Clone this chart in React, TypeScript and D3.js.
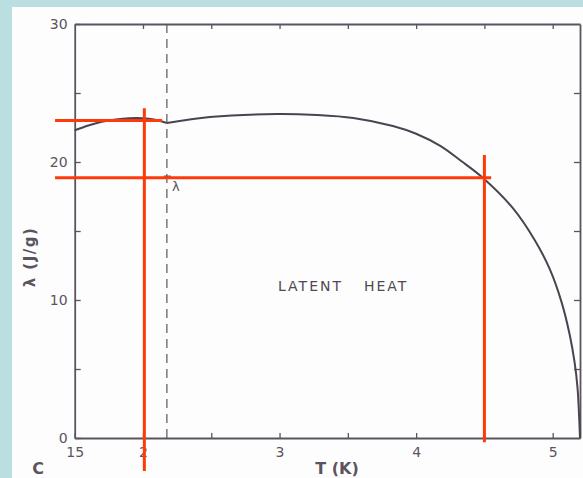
import React, { useEffect, useRef } from "react";
import * as d3 from "d3";

// latent heat of helium-4 vs temperature
const belowLambdaT = [1.5, 1.6, 1.69, 1.8, 1.9, 2.0, 2.08, 2.175];
const belowLambdaL = [22.3, 22.65, 22.9, 23.08, 23.17, 23.17, 23.08, 22.83];
const aboveLambdaT = [2.175, 2.49, 2.98, 3.27, 3.54, 3.83, 4.0, 4.18, 4.33, 4.49, 4.707, 4.868, 4.978, 5.066, 5.125, 5.16, 5.182, 5.193, 5.2];
const aboveLambdaL = [22.83, 23.26, 23.48, 23.41, 23.19, 22.61, 22.05, 21.15, 20.07, 18.84, 16.67, 14.35, 12.25, 9.81, 7.46, 5.51, 3.62, 1.67, 0];

const lambdaT = 2.175;
const yTicks = [0, 5, 10, 15, 20, 25, 30];
const yLabels = [0, 10, 20, 30];
const xTicks = [1.5, 2, 2.5, 3, 3.5, 4, 4.5, 5];
const xLabels: Record<string, string> = { "1.5": "15", "2": "2", "3": "3", "4": "4", "5": "5" };

// red reading guides drawn on top
const guideH = [[1.4, 23.0, 2.14], [1.4, 18.85, 4.55]]; // [fromT, lambda, toT]
const guideV = [[2.01, 23.9, -2.4], [4.5, 20.5, -0.3]]; // [T, fromLambda, toLambda]

const W = 583, H = 478;

export default function App() {
  const ref = useRef<SVGSVGElement>(null);

  useEffect(() => {
    const svg = d3.select(ref.current);
    svg.selectAll("*").remove();

    const x = d3.scaleLinear().domain([1.5, 5.2]).range([74.7, 580]);
    const y = d3.scaleLinear().domain([0, 30]).range([438, 24]);
    const ink = "#5b5460";

    svg.append("rect").attr("width", W).attr("height", H).attr("fill", "#b9dfe1");
    svg.append("rect").attr("x", 12).attr("y", 7).attr("width", W - 12).attr("height", H - 7).attr("fill", "#fdfdfd");

    const font = "'DejaVu Sans', sans-serif";

    // axes, ticks pointing inward
    const gl = svg.append("g").attr("transform", `translate(${x(1.5)},0)`)
      .call(d3.axisLeft(y).tickValues(yTicks).tickSize(-6).tickSizeOuter(0).tickPadding(7)
        .tickFormat((d) => (yLabels.includes(+d) ? String(d) : "")));
    const gr = svg.append("g").attr("transform", `translate(${x(5.2)},0)`)
      .call(d3.axisRight(y).tickValues(yTicks.slice(1, -1)).tickSize(-6).tickSizeOuter(0).tickFormat(() => ""));
    const gb = svg.append("g").attr("transform", `translate(0,${y(0)})`)
      .call(d3.axisBottom(x).tickValues(xTicks).tickSize(-5).tickSizeOuter(0).tickPadding(9)
        .tickFormat((d) => xLabels[String(d)] ?? ""));
    const gt = svg.append("g").attr("transform", `translate(0,${y(30)})`)
      .call(d3.axisTop(x).tickValues(xTicks.slice(1)).tickSize(-5).tickSizeOuter(0).tickFormat(() => ""));

    [gl, gr, gb, gt].forEach((g) => {
      g.select(".domain").attr("stroke", ink).attr("stroke-width", 1.8);
      g.selectAll(".tick line").attr("stroke", ink).attr("stroke-width", 1.3);
      g.selectAll("text").attr("fill", ink).attr("font-size", 14).attr("font-family", font);
    });

    // lambda line
    svg.append("line")
      .attr("x1", x(lambdaT)).attr("x2", x(lambdaT)).attr("y1", y(30)).attr("y2", y(0))
      .attr("stroke", ink).attr("stroke-width", 1.2).attr("stroke-dasharray", "9,6");

    svg.append("line")
      .attr("x1", x(lambdaT) - 3).attr("x2", x(lambdaT) + 4).attr("y1", y(18.9) - 1).attr("y2", y(18.9) - 1)
      .attr("stroke", ink).attr("stroke-width", 1.3);
    svg.append("text").attr("x", x(lambdaT) + 5).attr("y", y(18.9) + 14)
      .attr("font-size", 13).attr("font-family", font).attr("fill", ink).text("λ");

    const line = d3.line<number>().curve(d3.curveCatmullRom.alpha(0.5));
    const draw = (ts: number[], ls: number[]) =>
      svg.append("path")
        .attr("d", line.x((_, i) => x(ts[i])).y((_, i) => y(ls[i]))(ts))
        .attr("fill", "none").attr("stroke", "#4a4450").attr("stroke-width", 2);
    draw(belowLambdaT, belowLambdaL);
    draw(aboveLambdaT, aboveLambdaL);

    svg.append("text").attr("x", 278).attr("y", 291)
      .attr("font-size", 14).attr("letter-spacing", 2).attr("font-family", font).attr("fill", "#4f4954")
      .text("LATENT");
    svg.append("text").attr("x", 364).attr("y", 291)
      .attr("font-size", 14).attr("letter-spacing", 2).attr("font-family", font).attr("fill", "#4f4954")
      .text("HEAT");

    svg.append("text").attr("x", 337).attr("y", 474).attr("text-anchor", "middle")
      .attr("font-size", 16).attr("font-weight", "bold").attr("font-family", font).attr("fill", ink)
      .text("T (K)");
    svg.append("text").attr("x", 38).attr("y", 474).attr("text-anchor", "middle")
      .attr("font-size", 16).attr("font-weight", "bold").attr("font-family", font).attr("fill", ink)
      .text("C");
    svg.append("text").attr("transform", "translate(35,257) rotate(-90)").attr("text-anchor", "middle")
      .attr("font-size", 15).attr("letter-spacing", 1.5).attr("font-weight", "bold").attr("font-family", font).attr("fill", ink)
      .text("λ (J/g)");

    // red guides
    const red = "#ff3a0a";
    guideH.forEach(([t0, l, t1]) => {
      svg.append("line").attr("x1", x(t0) - 6).attr("x2", x(t1)).attr("y1", y(l)).attr("y2", y(l))
        .attr("stroke", red).attr("stroke-width", 3);
    });
    guideV.forEach(([t, l0, l1]) => {
      svg.append("line").attr("x1", x(t)).attr("x2", x(t)).attr("y1", y(l0)).attr("y2", y(l1))
        .attr("stroke", red).attr("stroke-width", 3);
    });
  }, []);

  return (
    <div style={{ position: "fixed", left: 0, top: 0 }}>
      <svg ref={ref} width={W} height={H} style={{ display: "block" }} />
    </div>
  );
}
